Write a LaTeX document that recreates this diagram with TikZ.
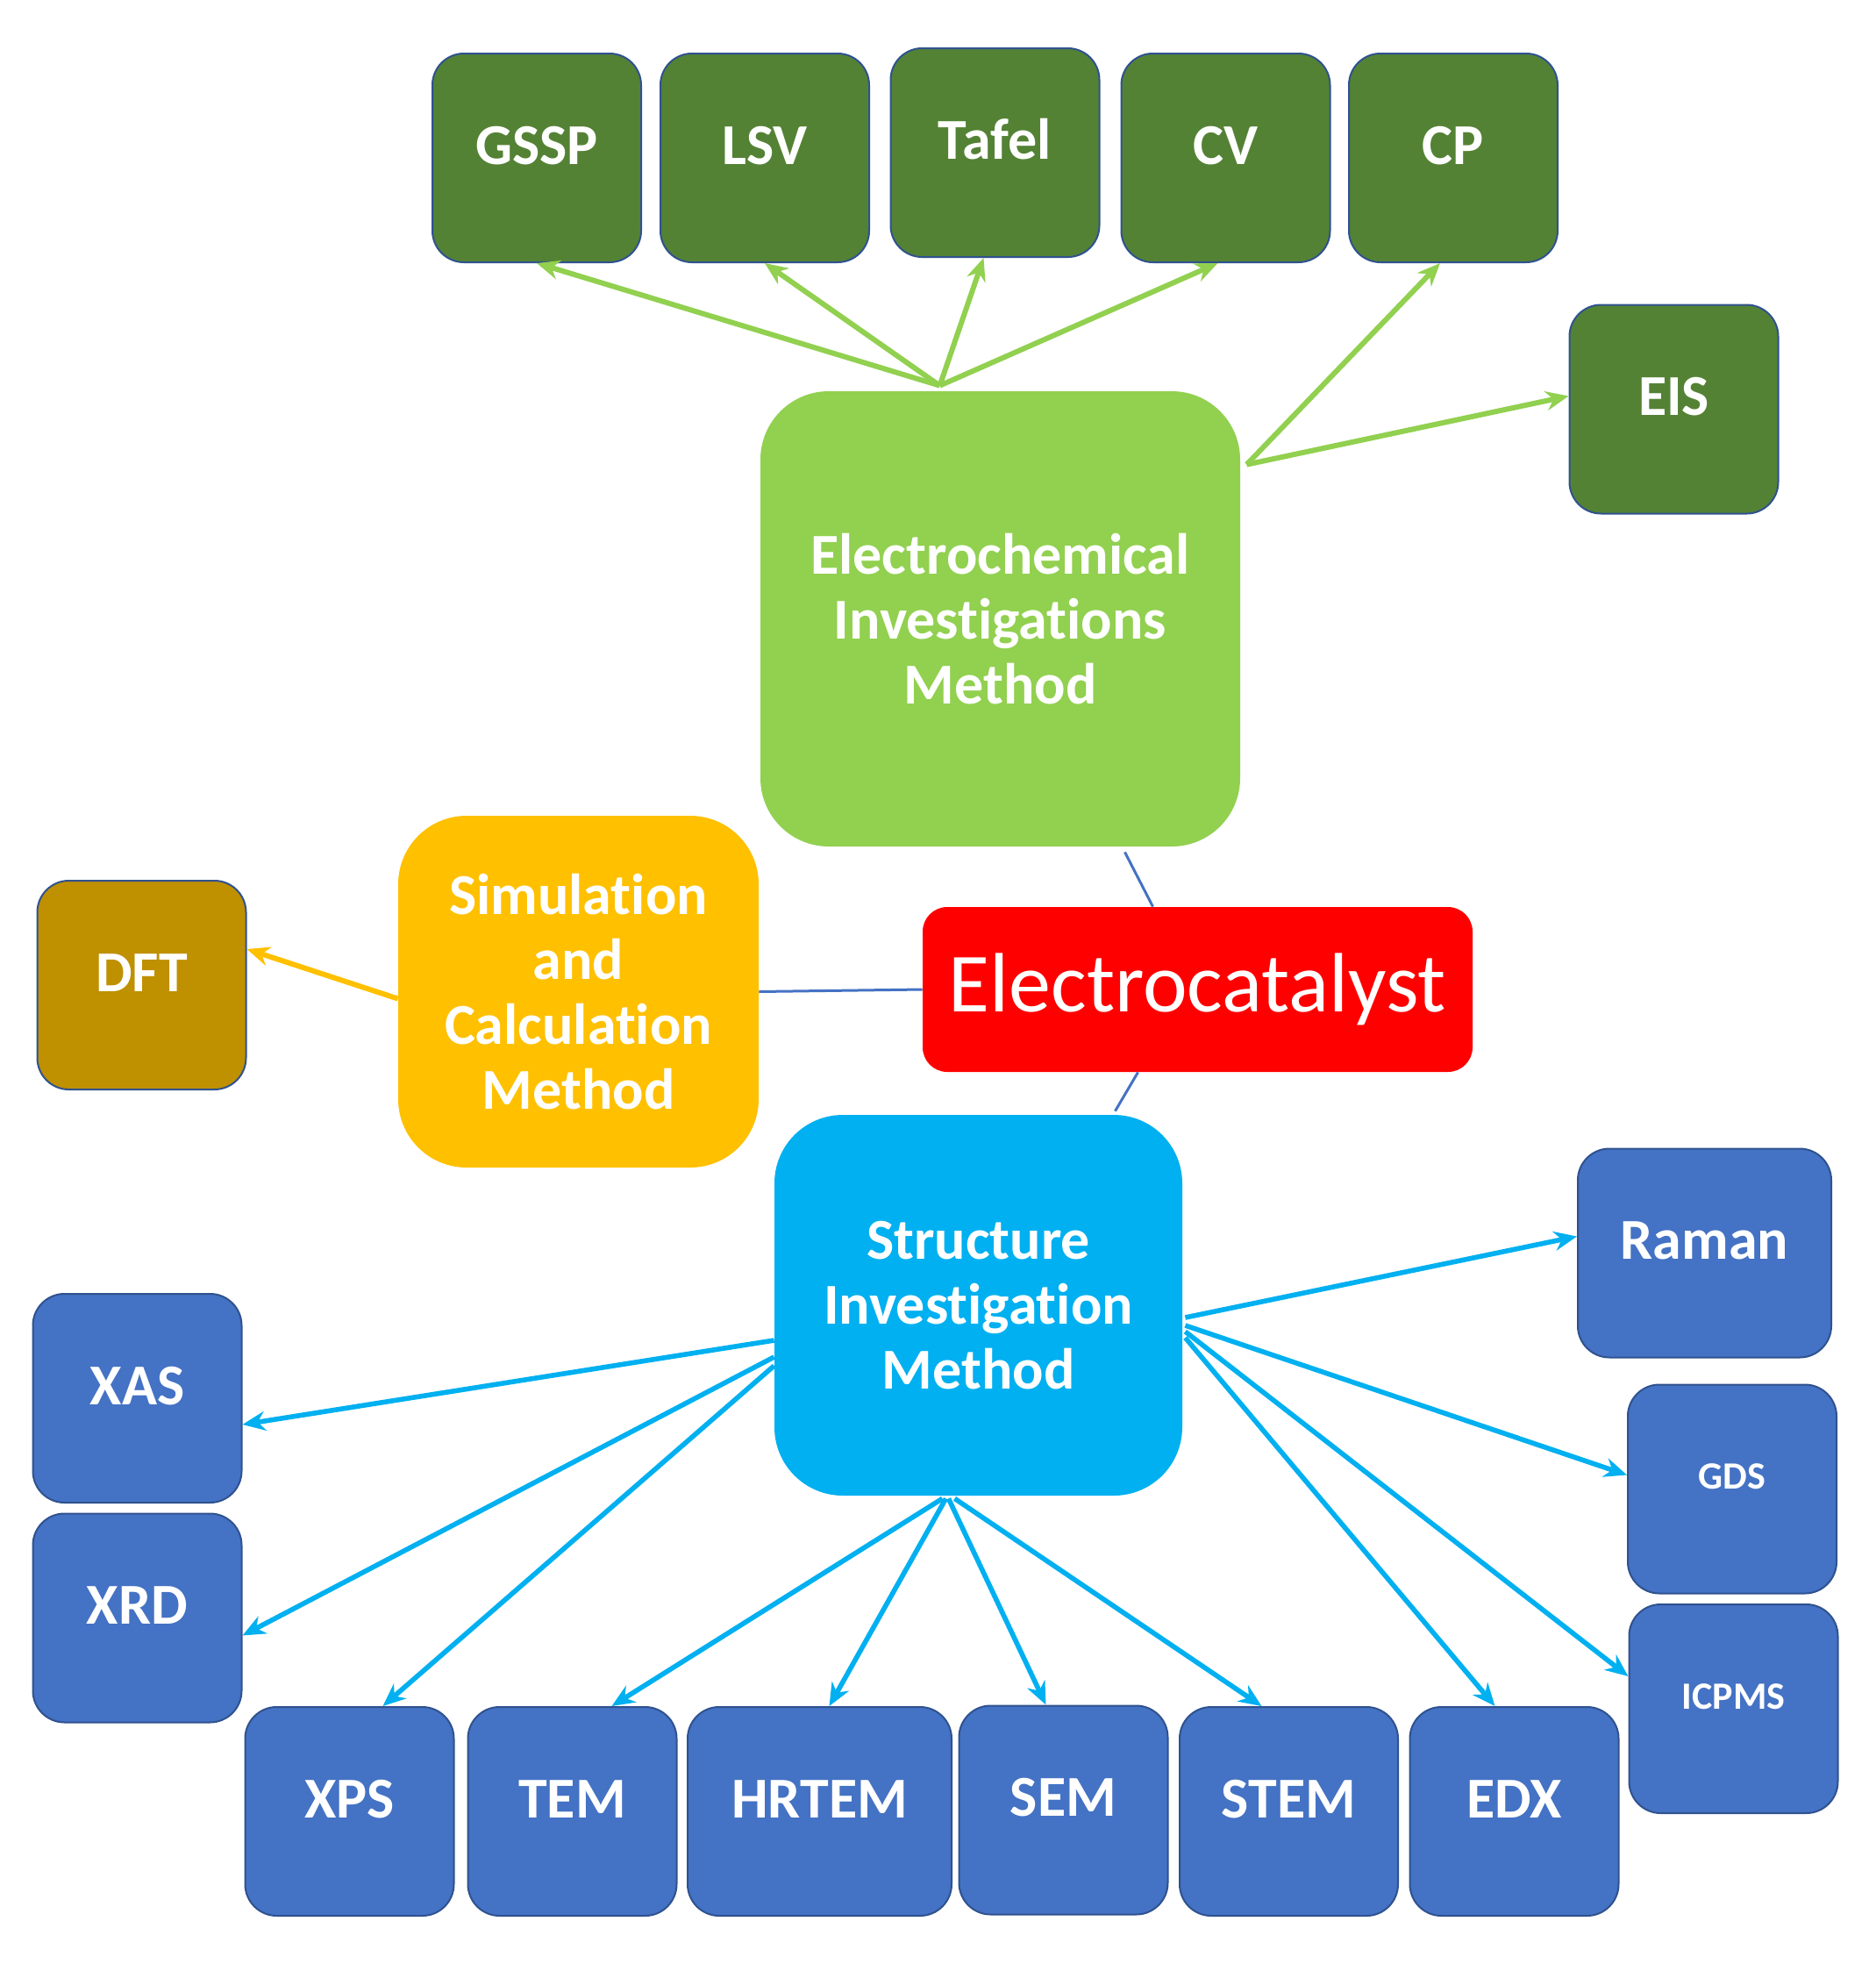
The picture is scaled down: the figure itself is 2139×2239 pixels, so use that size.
\documentclass[tikz,border=0pt]{standalone}
\usepackage{fontspec}
\setmainfont{Carlito}[Ligatures=CommonOff]
\usetikzlibrary{arrows.meta,calc}
\definecolor{dkgreen}{HTML}{548235}
\definecolor{lgreen}{HTML}{92D050}
\definecolor{orng}{HTML}{FFC000}
\definecolor{dftc}{HTML}{BF9000}
\definecolor{redc}{HTML}{FF0000}
\definecolor{cyanc}{HTML}{00B0F0}
\definecolor{bluec}{HTML}{4472C4}
\definecolor{bordc}{HTML}{2F528F}
\begin{document}
\begin{tikzpicture}[x=0.5pt,y=-0.5pt,
  base/.style={text=white, inner sep=0pt, align=center},
  smallbox/.style={base, rounded corners=18pt, draw=bordc, line width=1pt,
    minimum width=119pt, minimum height=119pt,
    font=\fontsize{33}{37}\selectfont\bfseries, text height=22pt, text depth=15pt},
  tinybox/.style={smallbox, font=\fontsize{22}{26}\selectfont\bfseries,
    text height=15pt, text depth=15pt},
  bigbox/.style={base, rounded corners=39pt, font=\fontsize{33}{37}\selectfont\bfseries},
  garrow/.style={draw=lgreen, line width=3pt, -{Stealth[length=13pt,width=11pt]}},
  carrow/.style={draw=cyanc, line width=2.8pt, -{Stealth[length=13pt,width=11pt]}},
  oarrow/.style={draw=orng, line width=3pt, -{Stealth[length=13pt,width=11pt]}},
  thinline/.style={draw=bluec, line width=1.5pt}
]
\useasboundingbox (0,0) rectangle (2139,2239);

% top green boxes
\node[smallbox, fill=dkgreen] (gssp) at (612,180) {GSSP};
\node[smallbox, fill=dkgreen] (lsv) at (872,180) {LSV};
\node[smallbox, fill=dkgreen] (tafel) at (1134.5,174) {Tafel};
\node[smallbox, fill=dkgreen] (cv) at (1397.5,180) {CV};
\node[smallbox, fill=dkgreen] (cp) at (1657,180) {CP};
\node[smallbox, fill=dkgreen] (eis) at (1908.5,466.5) {EIS};

% big boxes
\node[bigbox, fill=lgreen, minimum width=273.5pt, minimum height=259.5pt] (echem) at (1140.5,705.5)
  {Electrochemical\\Investigations\\Method};
\node[bigbox, fill=orng, minimum width=205.5pt, minimum height=200.5pt] (sim) at (659.5,1130.5)
  {Simulation\\and\\Calculation\\Method};
\node[bigbox, fill=cyanc, minimum width=232.5pt, minimum height=217pt] (structure) at (1115.5,1488)
  {Structure\\Investigation\\Method};
\node[base, fill=redc, rounded corners=14pt, minimum width=313.5pt, minimum height=94pt,
  font=\fontsize{48}{52}\selectfont] (ecat) at (1365.5,1128) {Electrocatalyst};

% DFT
\node[smallbox, fill=dftc] (dft) at (161.5,1123) {DFT};

% blue boxes
\node[smallbox, fill=bluec, minimum width=144.5pt] (raman) at (1943.5,1428.5) {Raman};
\node[tinybox, fill=bluec] (gds) at (1975,1697.5) {GDS};
\node[tinybox, fill=bluec] (icpms) at (1976.5,1948) {ICPMS};
\node[smallbox, fill=bluec] (xas) at (156.5,1594) {XAS};
\node[smallbox, fill=bluec] (xrd) at (156.5,1844.5) {XRD};
\node[smallbox, fill=bluec] (xps) at (398.5,2065) {XPS};
\node[smallbox, fill=bluec] (tem) at (652.5,2065) {TEM};
\node[smallbox, fill=bluec, minimum width=150.5pt] (hrtem) at (934.5,2065) {HRTEM};
\node[smallbox, fill=bluec] (sem) at (1212.5,2063.5) {SEM};
\node[smallbox, fill=bluec, minimum width=124.5pt] (stem) at (1469.5,2065) {STEM};
\node[smallbox, fill=bluec] (edx) at (1726.5,2065) {EDX};

% green arrows
\coordinate (eh1) at ($(echem.north)+(-69,-6)$);
\coordinate (eh2) at ($(echem.north east)+(7,84)$);
\draw[garrow] (eh1) -- (gssp.south);
\draw[garrow] (eh1) -- (lsv.south);
\draw[garrow] (eh1) -- ($(tafel.south)+(-13,0)$);
\draw[garrow] (eh1) -- ($(cv.south)+(-9,0)$);
\draw[garrow] (eh2) -- ($(cp.south)+(-15,0)$);
\draw[garrow] (eh2) -- ($(eis.west)+(0,-15)$);

% thin connectors
\draw[thinline] ($(echem.south)+(142,6)$) -- ($(ecat.north)+(-51,0)$);
\draw[thinline] (sim.east) -- (ecat.west);
\draw[thinline] ($(ecat.south)+(-68,0)$) -- ($(structure.north)+(156,-4)$);

% orange arrow
\draw[oarrow] ($(sim.west)+(0,8)$) -- ($(dft.east)+(0,-41)$);

% cyan arrows
\draw[carrow] ($(structure.west)+(0,40)$) -- ($(xas.east)+(0,30)$);
\draw[carrow] ($(structure.west)+(0,59)$) -- ($(xrd.east)+(0,20)$);
\draw[carrow] ($(structure.west)+(0,69)$) -- ($(xps.north)+(38,0)$);
\draw[carrow] ($(structure.south)+(-41,3)$) -- ($(tem.north)+(45,0)$);
\draw[carrow] ($(structure.south)+(-37,3)$) -- ($(hrtem.north)+(11,0)$);
\draw[carrow] ($(structure.south)+(-34,3)$) -- ($(sem.north)+(-20,0)$);
\draw[carrow] ($(structure.south)+(-27,3)$) -- ($(stem.north)+(-31,0)$);
\draw[carrow] ($(structure.east)+(3,37)$) -- ($(edx.north)+(-22,0)$);
\draw[carrow] ($(structure.east)+(3,30)$) -- ($(icpms.west)+(0,-37)$);
\draw[carrow] ($(structure.east)+(3,23)$) -- ($(gds.west)+(0,-16)$);
\draw[carrow] ($(structure.east)+(3,14)$) -- ($(raman.west)+(0,-19)$);
\end{tikzpicture}
\end{document}
